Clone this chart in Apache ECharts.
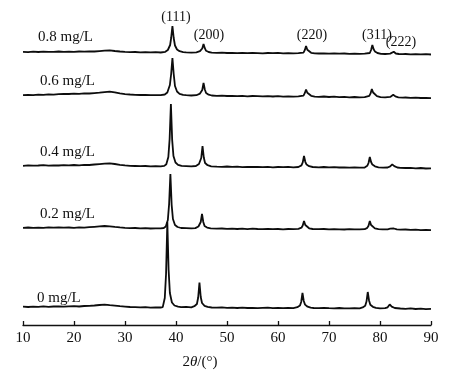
<!DOCTYPE html>
<html><head><meta charset="utf-8">
<script src="https://cdn.jsdelivr.net/npm/echarts@6/dist/echarts.min.js"></script>
<style>html,body{margin:0;padding:0;background:#fff}#c{width:466px;height:379px}</style>
</head><body><div id="c"></div>
<script>
// ---- data (2θ in degrees, intensity in arbitrary units relative to each trace's baseline) ----
const seriesNames = ['0 mg/L', '0.2 mg/L', '0.4 mg/L', '0.6 mg/L', '0.8 mg/L'];
const offsets = [17, 96, 158, 229, 272];
const xTicks = [10, 20, 30, 40, 50, 60, 70, 80, 90];
const peakLabels = ['(111)', '(200)', '(220)', '(311)', '(222)'];

const s0 = [
[10,1.3],[11,1.0],[12,1.4],[13,1.1],[14,1.6],[15,1.2],[16,1.5],[17,1.7],[18,1.3],[19,1.6],[20,1.8],[21,1.5],[22,2.0],[23,2.2],[24,2.5],[25,3.0],[26,3.3],[27,2.8],[28,2.4],[29,1.8],[30,1.4],[31,1.0],[32,0.8],[33,0.6],[34,0.8],[35,0.4],[36,0.6],[37,0.5],
[37.4,0.9],[37.8,10],[38.05,34],[38.3,86],[38.55,38],[38.8,15],[39.2,5.5],[39.7,2.5],[40.4,1.3],
[41,0.9],[42,1.1],[43,0.7],[43.6,1.8],[44.1,4],[44.35,10.5],[44.6,25.5],[44.85,11],[45.1,5],[45.6,2.2],[46.2,1.1],
[47,0.5],[48,0.3],[49,0.6],[50,0.1],[51,0.3],[52,0],[53,0.4],[54,0],[55,0.2],[56,-0.1],[57,0.1],[58,0.3],[59,-0.2],[60,0],[61,-0.1],[62,0.1],[63,-0.2],[63.8,0.8],[64.3,2.4],[64.55,6],[64.8,15],[65.05,7],[65.3,3.4],[65.8,1.3],[66.4,0.3],
[67,0],[68,-0.2],[69,0.1],[70,-0.2],[71,-0.3],[72,0],[73,-0.3],[74,-0.4],[75,-0.2],[76,-0.3],[76.6,0.6],[77.1,2.2],[77.35,6.4],[77.6,16],[77.85,7.5],[78.1,3.3],[78.6,1.2],[79.2,0.2],
[80,-0.3],[81,-0.2],[81.5,0.7],[81.9,3.6],[82.3,1.4],[82.9,0],[84,-0.5],[85,-0.8],[86,-0.4],[87,-1],[88,-0.7],[89,-1.1],[90,-0.9]
];
const s02 = [
[10,1.2],[11,1.5],[12,1.1],[13,1.4],[14,1.2],[15,1.6],[16,1.3],[17,1.7],[18,1.4],[19,1.5],[20,1.2],[21,1.6],[22,1.4],[23,1.8],[24,2.2],[25,2.6],[26,3.0],[27,2.7],[28,2.1],[29,1.6],[30,1.2],[31,0.9],[32,1.0],[33,0.6],[34,0.8],[35,0.5],[36,0.7],[37,0.6],[37.6,1],
[38.0,2.5],[38.4,9],[38.65,25],[38.9,55],[39.15,24],[39.4,10],[39.8,4],[40.3,2],[41,1],
[42,0.8],[43,0.6],[43.8,0.9],[44.4,2.5],[44.85,7],[45.1,15],[45.35,7],[45.6,3],[46.1,1.4],[46.8,0.6],
[48,0.3],[49,0.5],[50,0.1],[51,0.4],[52,0],[53,0.3],[54,-0.1],[55,0.3],[56,0],[57,-0.2],[58,0.2],[59,-0.1],[60,0],[61,-0.3],[62,0],[63,-0.2],[64,0.2],[64.6,1.3],[64.85,3.5],[65.1,8],[65.35,4],[65.6,2],[66.1,0.7],[66.8,0],
[68,-0.2],[69,0],[70,-0.4],[71,-0.1],[72,-0.3],[73,-0.5],[74,-0.2],[75,-0.4],[76,-0.3],[77,-0.2],[77.5,1.1],[77.75,3.3],[78.0,8],[78.25,4],[78.5,2],[79,0.6],[79.7,-0.2],
[80.5,-0.4],[81.5,-0.3],[82,0.3],[82.3,1.8],[82.7,0.5],[83.3,-0.4],[84,-0.7],[85,-0.5],[86,-0.9],[87,-0.7],[88,-1.1],[89,-0.9],[90,-1.2]
];
const s04 = [
[10,1.2],[11,1.6],[12,1.3],[13,1.5],[14,1.9],[15,1.4],[16,1.7],[17,1.5],[18,1.9],[19,1.6],[20,2.0],[21,1.7],[22,2.1],[23,2.0],[24,2.5],[25,2.9],[26,3.3],[27,3.6],[28,3.0],[29,2.2],[30,1.6],[31,1.2],[32,1.0],[33,0.8],[34,1.0],[35,0.7],[36,0.8],[37,0.6],[37.7,1.1],
[38.1,2.8],[38.5,10],[38.75,28],[39.0,63],[39.25,27],[39.5,11],[39.9,4.5],[40.4,2.2],[41.1,1.1],
[42,0.9],[43,0.6],[43.9,1.0],[44.5,3],[44.95,9],[45.2,21],[45.45,9.5],[45.7,4],[46.2,1.8],[46.9,0.7],
[48,0.4],[49,0.2],[50,0.5],[51,0.1],[52,0.3],[53,-0.1],[54,0.2],[55,0],[56,0.2],[57,-0.2],[58,0.1],[59,-0.3],[60,0],[61,-0.2],[62,0.1],[63,-0.3],[64,0],[64.6,1.6],[64.85,4.6],[65.1,11],[65.35,5.2],[65.6,2.4],[66.1,0.8],[66.8,0],
[68,-0.3],[69,0],[70,-0.4],[71,-0.2],[72,-0.5],[73,-0.3],[74,-0.6],[75,-0.4],[76,-0.7],[77,-0.5],[77.5,1.2],[77.75,4],[78.0,10],[78.25,5],[78.5,2.4],[79,0.7],[79.7,-0.3],
[80.6,-0.6],[81.5,-0.5],[82,0.6],[82.4,2.6],[82.8,0.9],[83.4,-0.5],[84,-0.8],[85,-1],[86,-0.8],[87,-1.3],[88,-1.0],[89,-1.5],[90,-1.3]
];
const s06 = [
[10,0.8],[11,1.2],[12,0.9],[13,1.3],[14,1.1],[15,1.6],[16,1.4],[17,1.9],[18,2.2],[19,2.0],[20,2.4],[21,2.2],[22,2.6],[23,2.5],[24,2.9],[25,3.3],[26,3.9],[27,4.4],[28,3.6],[29,2.6],[30,1.9],[31,1.5],[32,1.2],[33,1.0],[34,1.1],[35,0.8],[36,0.9],[37,0.8],[37.8,1.5],
[38.3,3.5],[38.8,11],[39.05,22],[39.3,38],[39.55,22],[39.8,10],[40.2,4.5],[40.7,2.2],[41.4,1.1],
[42,0.8],[43,0.5],[44,0.8],[44.7,2.4],[45.15,6],[45.4,13],[45.65,6.5],[45.9,3],[46.4,1.3],[47,0.5],
[48,0.2],[49,0.4],[50,0],[51,0.2],[52,-0.2],[53,0.1],[54,-0.3],[55,0],[56,-0.2],[57,-0.4],[58,-0.1],[59,-0.5],[60,-0.2],[61,-0.6],[62,-0.3],[63,-0.7],[64,-0.4],[65,0.4],[65.25,2.8],[65.5,6.5],[65.75,3.2],[66,1.3],[66.5,0.2],[67.2,-0.6],
[68,-0.8],[69,-0.5],[70,-1.0],[71,-0.7],[72,-1.1],[73,-0.9],[74,-1.3],[75,-1.0],[76,-1.4],[77,-1.2],[77.9,0.2],[78.15,2.6],[78.4,7],[78.65,3.5],[78.9,1.5],[79.4,-0.2],[80.1,-1.2],
[81,-1.4],[82,-0.9],[82.6,1.2],[83,-0.4],[83.6,-1.4],[84.5,-1.7],[85,-1.5],[86,-1.9],[87,-1.6],[88,-2.0],[89,-1.8],[90,-2.1]
];
const s08 = [
[10,1.2],[11,0.9],[12,1.3],[13,1.0],[14,1.4],[15,1.1],[16,1.2],[17,1.5],[18,1.2],[19,1.4],[20,1.1],[21,1.5],[22,1.3],[23,1.6],[24,1.5],[25,1.9],[26,2.3],[27,2.6],[28,2.0],[29,1.5],[30,1.1],[31,0.9],[32,1.0],[33,0.7],[34,0.9],[35,0.6],[36,0.8],[37,0.5],[37.9,1.2],
[38.4,3],[38.85,8],[39.05,15],[39.3,27],[39.55,15],[39.8,7.5],[40.2,3.5],[40.7,1.8],[41.4,0.9],
[42,0.7],[43,0.4],[44,0.7],[44.7,1.8],[45.15,4.5],[45.4,9],[45.65,4.8],[45.9,2.2],[46.4,1],[47,0.3],
[48,0.1],[49,0.4],[50,0],[51,0.2],[52,-0.1],[53,0.2],[54,-0.2],[55,0.1],[56,-0.1],[57,-0.3],[58,0],[59,-0.2],[60,0.1],[61,-0.3],[62,-0.1],[63,-0.4],[64,-0.2],[65,0.4],[65.25,2.8],[65.5,7],[65.75,3.3],[66,1.4],[66.5,0.2],[67.2,-0.4],
[68,-0.5],[69,-0.3],[70,-0.6],[71,-0.4],[72,-0.7],[73,-0.5],[74,-0.8],[75,-0.6],[76,-0.9],[77,-0.7],[78,0],[78.25,3],[78.5,8],[78.75,3.8],[79,1.6],[79.5,0],[80.2,-0.8],
[81,-1],[82,-0.6],[82.7,1.2],[83.1,-0.5],[83.7,-1],[84.5,-1.2],[85,-1.0],[86,-1.3],[87,-1.1],[88,-1.4],[89,-1.2],[90,-1.5]
];
const allSeries = [s0, s02, s04, s06, s08];

// ---- chart ----
const FONT = '"Liberation Serif","Times New Roman",serif';
const chart = echarts.init(document.getElementById('c'), null, {renderer: 'canvas'});

const series = allSeries.map((arr, i) => ({
  name: seriesNames[i],
  type: 'line',
  data: arr.map(p => [p[0], p[1] + offsets[i]]),
  showSymbol: false,
  symbol: 'none',
  lineStyle: {color: '#0d0d0d', width: 1.8},
  animation: false,
  silent: true,
  z: 2
}));

const labelPos = [
  {x: 37, y: 298}, {x: 40, y: 214}, {x: 40, y: 152}, {x: 40, y: 81}, {x: 38, y: 37}
];
const peakPos = [
  {x: 176, y: 17}, {x: 209, y: 35}, {x: 312, y: 35}, {x: 377, y: 35}, {x: 401, y: 42}
];

const graphic = [];
seriesNames.forEach((n, i) => {
  graphic.push({type: 'text', style: {text: n, x: labelPos[i].x, y: labelPos[i].y,
    font: '15px ' + FONT, fill: '#111', align: 'left', verticalAlign: 'middle'}, z: 10});
});
peakLabels.forEach((t, i) => {
  graphic.push({type: 'text', style: {text: t, x: peakPos[i].x, y: peakPos[i].y,
    font: '14px ' + FONT, fill: '#111', align: 'center', verticalAlign: 'middle'}, z: 10 + i});
});
graphic.push({type: 'text', style: {text: '2{i|θ}/(°)', x: 200, y: 362,
  font: '15px ' + FONT, fill: '#111', align: 'center', verticalAlign: 'middle',
  rich: {i: {fontStyle: 'italic', fontSize: 15, fontFamily: FONT, fill: '#111'}}}, z: 10});

chart.setOption({
  backgroundColor: '#fff',
  animation: false,
  grid: {left: 23, right: 35, top: 0, bottom: 54, containLabel: false},
  xAxis: {
    type: 'value', min: xTicks[0], max: xTicks[xTicks.length - 1], interval: 10,
    axisLine: {show: true, onZero: false, lineStyle: {color: '#111', width: 1.3}},
    axisTick: {show: true, inside: true, length: 4, lineStyle: {color: '#111', width: 1.3}},
    axisLabel: {color: '#111', fontSize: 15, fontFamily: FONT, margin: 6},
    splitLine: {show: false}
  },
  yAxis: {type: 'value', min: 0, max: 325, show: false, splitLine: {show: false}},
  series: series,
  graphic: graphic
});
</script>
</body></html>
